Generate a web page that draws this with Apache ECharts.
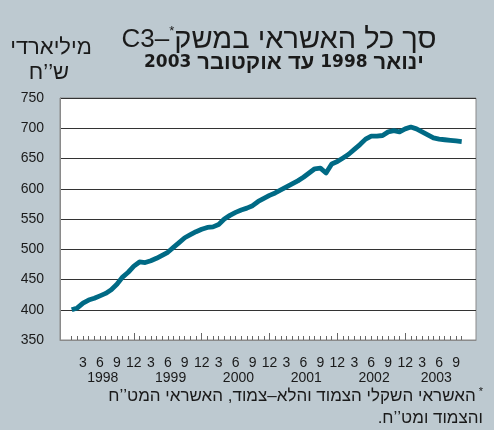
<!DOCTYPE html>
<html>
<head>
<meta charset="utf-8">
<script src="https://cdn.jsdelivr.net/npm/echarts@6/dist/echarts.min.js"></script>
<style>
html,body{margin:0;padding:0;background:#bdc9d0;}
#c{width:494px;height:430px;}
</style>
</head>
<body>
<div id="c"></div>
<script>
// Monthly credit, Jan 1998 .. Oct 2003 (billions NIS)
const values = [
  400,403,411,416,419,423,427,433,442,454,462,472,
  479,478,481,485,490,495,503,511,519,524,529,533,
  536,537,541,550,556,561,565,568,572,579,584,589,
  593,598,603,608,613,619,626,633,634,626,641,645,
  651,657,665,673,682,687,687,688,694,696,694,699,
  702,699,694,689,684,682,681,680,679,678
];
const years = ['1998','1999','2000','2001','2002','2003'];
const monthLabelNumbers = [3,6,9,12];
const yTicks = [350,400,450,500,550,600,650,700,750];

const FONT = '"Liberation Sans", Arial, "DejaVu Sans", sans-serif';
const WIDE = '"DejaVu Sans", "Liberation Sans", sans-serif';
const n = values.length;
const allIdx = values.map((v,i)=>i);
const monthIdx = allIdx.filter(i => monthLabelNumbers.includes(i%12+1));
const yearEnds = years.slice(0,-1).map((y,k)=>k*12+11);
const yearCenters = years.map((y,k)=>{
  const start = k*12, end = Math.min(n-1, k*12+11);
  return (start+end)/2;
});
const data = values.map((v,i)=>[i,v]);

const chart = echarts.init(document.getElementById('c'), null, {renderer:'canvas'});
const xBase = {type:'value', min:-2.07, max:71.53, gridIndex:0, position:'bottom', splitLine:{show:false}};
const ink = '#1a1a1a';
chart.setOption({
  backgroundColor:'#bdc9d0',
  animation:false,
  textStyle:{fontFamily:FONT},
  grid:{left:60, right:18, top:98, bottom:90, show:true, backgroundColor:'#ffffff', borderColor:'#8a8a8a', borderWidth:1},
  xAxis:[
    Object.assign({}, xBase, {
      axisLine:{show:true, onZero:false, lineStyle:{color:'#8a8a8a', width:1}},
      axisTick:{show:true, inside:true, length:4, customValues:allIdx, lineStyle:{color:'#666'}},
      axisLabel:{customValues:monthIdx, formatter:v=>String(Math.round(v)%12+1), fontSize:14, color:ink, margin:16, fontFamily:FONT}
    }),
    Object.assign({}, xBase, {
      axisLine:{show:false, onZero:false},
      axisTick:{show:true, inside:true, length:7, customValues:yearEnds, lineStyle:{color:'#666'}},
      axisLabel:{customValues:yearCenters, formatter:v=>years[yearCenters.indexOf(v)] || '', fontSize:14, color:ink, margin:31, fontFamily:FONT}
    })
  ],
  yAxis:{
    type:'value', min:350, max:750, interval:50,
    axisLine:{show:true, onZero:false, lineStyle:{color:'#8a8a8a'}},
    axisTick:{show:false},
    axisLabel:{fontSize:14, color:ink, margin:16, fontFamily:FONT},
    splitLine:{show:true, lineStyle:{color:'#333', width:1}}
  },
  series:[{
    type:'line', xAxisIndex:0, data:data, showSymbol:false, symbol:'none',
    lineStyle:{color:'#006a85', width:4.8, join:'round'}
  }],
  graphic:[
    {type:'text', style:{x:279, y:40, align:'center', verticalAlign:'middle', textAlign:'center', textVerticalAlign:'middle',
      text:'{a|C3–}{s|*}{b|סך כל האשראי במשק}',
      rich:{a:{fontSize:26, fontFamily:FONT, fill:ink, color:ink, lineHeight:30},
            b:{fontSize:29, fontFamily:FONT, fill:ink, color:ink, lineHeight:30},
            s:{fontSize:13, fontFamily:FONT, fill:ink, color:ink, verticalAlign:'top', lineHeight:30}}}},
    {type:'text', style:{x:284, y:63, align:'center', verticalAlign:'middle', textAlign:'center', textVerticalAlign:'middle',
      text:'{d|2003}{d| }{h|עד אוקטובר}{d| 1998 }{h|ינואר}',
      rich:{d:{fontSize:17, fontWeight:'bold', fontFamily:WIDE, fill:ink, color:ink, lineHeight:22},
            h:{fontSize:22, fontWeight:'bold', fontFamily:FONT, fill:ink, color:ink, lineHeight:22}}}},
    {type:'text', style:{x:51, y:48, align:'center', verticalAlign:'middle', textAlign:'center', textVerticalAlign:'middle',
      text:'מיליארדי', font:'22px '+FONT, fill:ink}},
    {type:'text', style:{x:49, y:73, align:'center', verticalAlign:'middle', textAlign:'center', textVerticalAlign:'middle',
      text:'ש’’ח', font:'22px '+FONT, fill:ink}},
    {type:'text', style:{x:483, y:396, align:'right', verticalAlign:'middle', textAlign:'right', textVerticalAlign:'middle',
      text:'{t|האשראי השקלי הצמוד והלא–צמוד, האשראי המט’’ח}{s| *}',
      rich:{t:{fontSize:17, fontFamily:FONT, fill:ink, color:ink, lineHeight:20},
            s:{fontSize:11, fontFamily:FONT, fill:ink, color:ink, verticalAlign:'top', lineHeight:20}}}},
    {type:'text', style:{x:483, y:418, align:'right', verticalAlign:'middle', textAlign:'right', textVerticalAlign:'middle',
      text:'{t|.}{t|והצמוד ומט’’ח}',
      rich:{t:{fontSize:17, fontFamily:FONT, fill:ink, color:ink}}}}
  ]
});
</script>
</body>
</html>
